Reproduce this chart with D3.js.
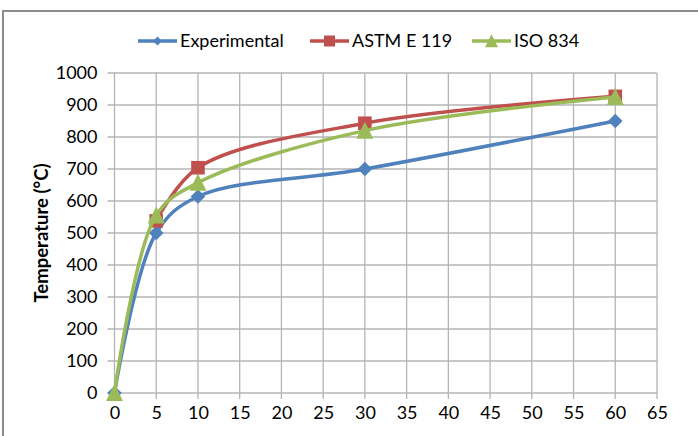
<!DOCTYPE html>
<html>
<head>
<meta charset="utf-8">
<script src="https://cdn.jsdelivr.net/npm/d3@7"></script>
<style>
  body { margin: 0; background: #fff; }
  text { font-family: Lato, "Open Sans", sans-serif; fill: #000; }
</style>
</head>
<body>
<div id="chart"></div>
<script>
// data
var times = [0, 5, 10, 30, 60];
var astmTimes = [5, 10, 30, 60];
var experimental = [0, 500, 614, 700, 850];
var astm = [538, 704, 843, 927];
var iso = [0, 555, 657, 820, 925];
var seriesNames = ["Experimental", "ASTM E 119", "ISO 834"];
var xTicks = [0, 5, 10, 15, 20, 25, 30, 35, 40, 45, 50, 55, 60, 65];
var yTicks = [0, 100, 200, 300, 400, 500, 600, 700, 800, 900, 1000];

var W = 698, H = 436;
var margin = {top: 73, right: 41, bottom: 43, left: 114.5};
var width = W - margin.left - margin.right,
    height = H - margin.top - margin.bottom;
var fontSize = 18;

var svg = d3.select("#chart").append("svg")
    .attr("width", W)
    .attr("height", H);

// chart frame (runs off the right and bottom edges)
svg.append("rect")
    .attr("x", 3).attr("y", 11)
    .attr("width", W + 10).attr("height", H + 10)
    .attr("fill", "none")
    .attr("stroke", "#8c8c8c")
    .attr("stroke-width", 2);

var g = svg.append("g")
    .attr("transform", "translate(" + margin.left + "," + margin.top + ")");

var x = d3.scaleLinear().domain([0, 65]).range([0, width]);
var y = d3.scaleLinear().domain([0, 1000]).range([height, 0]);

var gridColor = "#b4b4b4";

// gridlines
g.selectAll("line.vgrid")
    .data(xTicks)
    .enter().append("line")
    .attr("class", "vgrid")
    .attr("x1", function(d) { return x(d); })
    .attr("x2", function(d) { return x(d); })
    .attr("y1", 0)
    .attr("y2", height + 6)
    .attr("stroke", gridColor)
    .attr("stroke-width", 1.3);

g.selectAll("line.hgrid")
    .data(yTicks)
    .enter().append("line")
    .attr("class", "hgrid")
    .attr("x1", -7)
    .attr("x2", width)
    .attr("y1", function(d) { return y(d); })
    .attr("y2", function(d) { return y(d); })
    .attr("stroke", gridColor)
    .attr("stroke-width", 1.3);

// tick labels
var xAxis = g.append("g")
    .attr("transform", "translate(0," + height + ")")
    .call(d3.axisBottom(x).tickValues(xTicks).tickSize(0).tickPadding(13).tickFormat(d3.format("d")));
var yAxis = g.append("g")
    .call(d3.axisLeft(y).tickValues(yTicks).tickSize(0).tickPadding(17).tickFormat(d3.format("d")));
[xAxis, yAxis].forEach(function(a) {
  a.select(".domain").remove();
  a.selectAll("text").attr("font-size", fontSize).attr("font-family", "Lato, sans-serif");
});

// y axis title
svg.append("text")
    .attr("transform", "translate(48," + (margin.top + height / 2) + ") rotate(-90)")
    .attr("text-anchor", "middle")
    .attr("font-size", 18.5)
    .attr("font-weight", "bold")
    .text("Temperature (°C)");

var colors = ["#4f81bd", "#c0504d", "#9bbb59"];
var shapes = ["diamond", "square", "triangle"];
var allSeries = [
  {t: times, v: experimental},
  {t: astmTimes, v: astm},
  {t: times, v: iso}
];

function markerPath(shape, s) {
  if (shape === "diamond") return "M0," + (-s) + "L" + s + ",0L0," + s + "L" + (-s) + ",0Z";
  if (shape === "square") return "M" + (-s) + "," + (-s) + "H" + s + "V" + s + "H" + (-s) + "Z";
  return "M0," + (-s * 1.05) + "L" + s + "," + (s * 0.95) + "L" + (-s) + "," + (s * 0.95) + "Z";
}
var markerSize = {diamond: 7.3, square: 6.8, triangle: 8.5};

allSeries.forEach(function(s, k) {
  var pts = s.v.map(function(d, i) { return [s.t[i], d]; });
  var line = d3.line()
      .x(function(d) { return x(d[0]); })
      .y(function(d) { return y(d[1]); })
      .curve(d3.curveCatmullRom.alpha(0.5));
  var sg = g.append("g");
  sg.append("path")
      .datum(pts)
      .attr("d", line)
      .attr("fill", "none")
      .attr("stroke", colors[k])
      .attr("stroke-width", 3.5)
      .attr("stroke-linejoin", "round");
  sg.selectAll("path.marker")
      .data(pts)
      .enter().append("path")
      .attr("class", "marker")
      .attr("transform", function(d) { return "translate(" + x(d[0]) + "," + y(d[1]) + ")"; })
      .attr("d", markerPath(shapes[k], markerSize[shapes[k]]))
      .attr("fill", colors[k]);
});

// legend
var legendX = [138, 310, 472];
var legend = svg.append("g").attr("transform", "translate(0,41)");
seriesNames.forEach(function(name, k) {
  var lg = legend.append("g").attr("transform", "translate(" + legendX[k] + ",0)");
  lg.append("line")
      .attr("x1", 0).attr("x2", 39)
      .attr("stroke", colors[k])
      .attr("stroke-width", 3.5);
  var ms = k === 0 ? 4.5 : (k === 1 ? 5.5 : 6.5);
  lg.append("path")
      .attr("transform", "translate(19.5,0)")
      .attr("d", markerPath(shapes[k], ms))
      .attr("fill", colors[k]);
  lg.append("text")
      .attr("x", 42)
      .attr("dy", "0.35em")
      .attr("font-size", fontSize)
      .text(name);
});
</script>
</body>
</html>
